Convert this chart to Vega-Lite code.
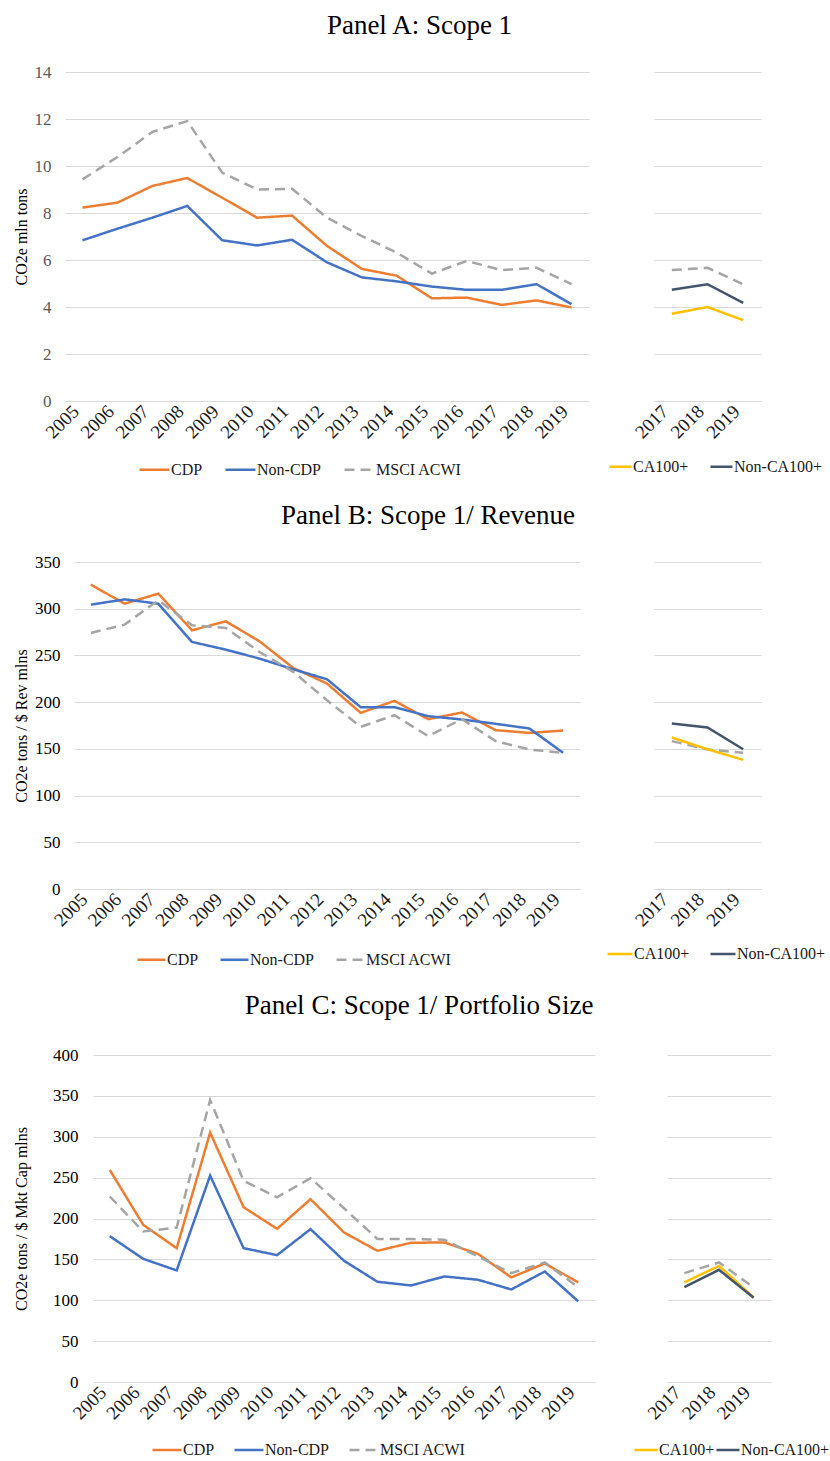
{
  "$schema": "https://vega.github.io/schema/vega-lite/v6.json",
  "padding": {"left": 12, "top": 12, "right": 0, "bottom": 6},
  "background": "white",
  "datasets": {
    "d": [
      {"panel":"A","chart":"main","series":"CDP","year":2005,"value":8.23},
      {"panel":"A","chart":"main","series":"CDP","year":2006,"value":8.44},
      {"panel":"A","chart":"main","series":"CDP","year":2007,"value":9.15},
      {"panel":"A","chart":"main","series":"CDP","year":2008,"value":9.49},
      {"panel":"A","chart":"main","series":"CDP","year":2009,"value":8.65},
      {"panel":"A","chart":"main","series":"CDP","year":2010,"value":7.80},
      {"panel":"A","chart":"main","series":"CDP","year":2011,"value":7.89},
      {"panel":"A","chart":"main","series":"CDP","year":2012,"value":6.60},
      {"panel":"A","chart":"main","series":"CDP","year":2013,"value":5.62},
      {"panel":"A","chart":"main","series":"CDP","year":2014,"value":5.33},
      {"panel":"A","chart":"main","series":"CDP","year":2015,"value":4.37},
      {"panel":"A","chart":"main","series":"CDP","year":2016,"value":4.40},
      {"panel":"A","chart":"main","series":"CDP","year":2017,"value":4.09},
      {"panel":"A","chart":"main","series":"CDP","year":2018,"value":4.28},
      {"panel":"A","chart":"main","series":"CDP","year":2019,"value":3.98},
      {"panel":"A","chart":"main","series":"Non-CDP","year":2005,"value":6.84},
      {"panel":"A","chart":"main","series":"Non-CDP","year":2006,"value":7.33},
      {"panel":"A","chart":"main","series":"Non-CDP","year":2007,"value":7.80},
      {"panel":"A","chart":"main","series":"Non-CDP","year":2008,"value":8.30},
      {"panel":"A","chart":"main","series":"Non-CDP","year":2009,"value":6.84},
      {"panel":"A","chart":"main","series":"Non-CDP","year":2010,"value":6.62},
      {"panel":"A","chart":"main","series":"Non-CDP","year":2011,"value":6.86},
      {"panel":"A","chart":"main","series":"Non-CDP","year":2012,"value":5.90},
      {"panel":"A","chart":"main","series":"Non-CDP","year":2013,"value":5.26},
      {"panel":"A","chart":"main","series":"Non-CDP","year":2014,"value":5.09},
      {"panel":"A","chart":"main","series":"Non-CDP","year":2015,"value":4.87},
      {"panel":"A","chart":"main","series":"Non-CDP","year":2016,"value":4.73},
      {"panel":"A","chart":"main","series":"Non-CDP","year":2017,"value":4.73},
      {"panel":"A","chart":"main","series":"Non-CDP","year":2018,"value":4.97},
      {"panel":"A","chart":"main","series":"Non-CDP","year":2019,"value":4.12},
      {"panel":"A","chart":"main","series":"MSCI ACWI","year":2005,"value":9.43},
      {"panel":"A","chart":"main","series":"MSCI ACWI","year":2006,"value":10.38},
      {"panel":"A","chart":"main","series":"MSCI ACWI","year":2007,"value":11.45},
      {"panel":"A","chart":"main","series":"MSCI ACWI","year":2008,"value":11.91},
      {"panel":"A","chart":"main","series":"MSCI ACWI","year":2009,"value":9.72},
      {"panel":"A","chart":"main","series":"MSCI ACWI","year":2010,"value":9.00},
      {"panel":"A","chart":"main","series":"MSCI ACWI","year":2011,"value":9.03},
      {"panel":"A","chart":"main","series":"MSCI ACWI","year":2012,"value":7.80},
      {"panel":"A","chart":"main","series":"MSCI ACWI","year":2013,"value":7.02},
      {"panel":"A","chart":"main","series":"MSCI ACWI","year":2014,"value":6.31},
      {"panel":"A","chart":"main","series":"MSCI ACWI","year":2015,"value":5.42},
      {"panel":"A","chart":"main","series":"MSCI ACWI","year":2016,"value":5.96},
      {"panel":"A","chart":"main","series":"MSCI ACWI","year":2017,"value":5.57},
      {"panel":"A","chart":"main","series":"MSCI ACWI","year":2018,"value":5.67},
      {"panel":"A","chart":"main","series":"MSCI ACWI","year":2019,"value":4.97},
      {"panel":"A","chart":"side","series":"CA100+","year":2017,"value":3.71},
      {"panel":"A","chart":"side","series":"CA100+","year":2018,"value":4.00},
      {"panel":"A","chart":"side","series":"CA100+","year":2019,"value":3.44},
      {"panel":"A","chart":"side","series":"Non-CA100+","year":2017,"value":4.73},
      {"panel":"A","chart":"side","series":"Non-CA100+","year":2018,"value":4.97},
      {"panel":"A","chart":"side","series":"Non-CA100+","year":2019,"value":4.18},

      {"panel":"B","chart":"main","series":"CDP","year":2005,"value":325.7},
      {"panel":"B","chart":"main","series":"CDP","year":2006,"value":305.4},
      {"panel":"B","chart":"main","series":"CDP","year":2007,"value":316.1},
      {"panel":"B","chart":"main","series":"CDP","year":2008,"value":276.9},
      {"panel":"B","chart":"main","series":"CDP","year":2009,"value":286.5},
      {"panel":"B","chart":"main","series":"CDP","year":2010,"value":265.1},
      {"panel":"B","chart":"main","series":"CDP","year":2011,"value":236.6},
      {"panel":"B","chart":"main","series":"CDP","year":2012,"value":219.9},
      {"panel":"B","chart":"main","series":"CDP","year":2013,"value":188.5},
      {"panel":"B","chart":"main","series":"CDP","year":2014,"value":201.4},
      {"panel":"B","chart":"main","series":"CDP","year":2015,"value":181.8},
      {"panel":"B","chart":"main","series":"CDP","year":2016,"value":188.9},
      {"panel":"B","chart":"main","series":"CDP","year":2017,"value":170.0},
      {"panel":"B","chart":"main","series":"CDP","year":2018,"value":167.1},
      {"panel":"B","chart":"main","series":"CDP","year":2019,"value":169.6},
      {"panel":"B","chart":"main","series":"Non-CDP","year":2005,"value":304.3},
      {"panel":"B","chart":"main","series":"Non-CDP","year":2006,"value":310.0},
      {"panel":"B","chart":"main","series":"Non-CDP","year":2007,"value":305.4},
      {"panel":"B","chart":"main","series":"Non-CDP","year":2008,"value":264.4},
      {"panel":"B","chart":"main","series":"Non-CDP","year":2009,"value":256.2},
      {"panel":"B","chart":"main","series":"Non-CDP","year":2010,"value":246.6},
      {"panel":"B","chart":"main","series":"Non-CDP","year":2011,"value":235.2},
      {"panel":"B","chart":"main","series":"Non-CDP","year":2012,"value":224.5},
      {"panel":"B","chart":"main","series":"Non-CDP","year":2013,"value":194.6},
      {"panel":"B","chart":"main","series":"Non-CDP","year":2014,"value":194.6},
      {"panel":"B","chart":"main","series":"Non-CDP","year":2015,"value":185.0},
      {"panel":"B","chart":"main","series":"Non-CDP","year":2016,"value":181.4},
      {"panel":"B","chart":"main","series":"Non-CDP","year":2017,"value":176.8},
      {"panel":"B","chart":"main","series":"Non-CDP","year":2018,"value":171.8},
      {"panel":"B","chart":"main","series":"Non-CDP","year":2019,"value":145.8},
      {"panel":"B","chart":"main","series":"MSCI ACWI","year":2005,"value":274.0},
      {"panel":"B","chart":"main","series":"MSCI ACWI","year":2006,"value":283.0},
      {"panel":"B","chart":"main","series":"MSCI ACWI","year":2007,"value":309.0},
      {"panel":"B","chart":"main","series":"MSCI ACWI","year":2008,"value":282.2},
      {"panel":"B","chart":"main","series":"MSCI ACWI","year":2009,"value":279.4},
      {"panel":"B","chart":"main","series":"MSCI ACWI","year":2010,"value":253.7},
      {"panel":"B","chart":"main","series":"MSCI ACWI","year":2011,"value":232.4},
      {"panel":"B","chart":"main","series":"MSCI ACWI","year":2012,"value":202.0},
      {"panel":"B","chart":"main","series":"MSCI ACWI","year":2013,"value":173.6},
      {"panel":"B","chart":"main","series":"MSCI ACWI","year":2014,"value":186.0},
      {"panel":"B","chart":"main","series":"MSCI ACWI","year":2015,"value":163.6},
      {"panel":"B","chart":"main","series":"MSCI ACWI","year":2016,"value":181.8},
      {"panel":"B","chart":"main","series":"MSCI ACWI","year":2017,"value":158.3},
      {"panel":"B","chart":"main","series":"MSCI ACWI","year":2018,"value":149.3},
      {"panel":"B","chart":"main","series":"MSCI ACWI","year":2019,"value":145.8},
      {"panel":"B","chart":"side","series":"CA100+","year":2017,"value":162.2},
      {"panel":"B","chart":"side","series":"CA100+","year":2018,"value":149.6},
      {"panel":"B","chart":"side","series":"CA100+","year":2019,"value":138.2},
      {"panel":"B","chart":"side","series":"Non-CA100+","year":2017,"value":177.2},
      {"panel":"B","chart":"side","series":"Non-CA100+","year":2018,"value":172.9},
      {"panel":"B","chart":"side","series":"Non-CA100+","year":2019,"value":149.6},

      {"panel":"C","chart":"main","series":"CDP","year":2005,"value":259.5},
      {"panel":"C","chart":"main","series":"CDP","year":2006,"value":192.3},
      {"panel":"C","chart":"main","series":"CDP","year":2007,"value":163.7},
      {"panel":"C","chart":"main","series":"CDP","year":2008,"value":305.1},
      {"panel":"C","chart":"main","series":"CDP","year":2009,"value":213.8},
      {"panel":"C","chart":"main","series":"CDP","year":2010,"value":187.4},
      {"panel":"C","chart":"main","series":"CDP","year":2011,"value":223.6},
      {"panel":"C","chart":"main","series":"CDP","year":2012,"value":182.9},
      {"panel":"C","chart":"main","series":"CDP","year":2013,"value":160.5},
      {"panel":"C","chart":"main","series":"CDP","year":2014,"value":170.3},
      {"panel":"C","chart":"main","series":"CDP","year":2015,"value":170.7},
      {"panel":"C","chart":"main","series":"CDP","year":2016,"value":156.8},
      {"panel":"C","chart":"main","series":"CDP","year":2017,"value":127.9},
      {"panel":"C","chart":"main","series":"CDP","year":2018,"value":145.0},
      {"panel":"C","chart":"main","series":"CDP","year":2019,"value":121.8},
      {"panel":"C","chart":"main","series":"Non-CDP","year":2005,"value":178.4},
      {"panel":"C","chart":"main","series":"Non-CDP","year":2006,"value":150.7},
      {"panel":"C","chart":"main","series":"Non-CDP","year":2007,"value":136.5},
      {"panel":"C","chart":"main","series":"Non-CDP","year":2008,"value":252.5},
      {"panel":"C","chart":"main","series":"Non-CDP","year":2009,"value":163.7},
      {"panel":"C","chart":"main","series":"Non-CDP","year":2010,"value":155.2},
      {"panel":"C","chart":"main","series":"Non-CDP","year":2011,"value":187.0},
      {"panel":"C","chart":"main","series":"Non-CDP","year":2012,"value":148.3},
      {"panel":"C","chart":"main","series":"Non-CDP","year":2013,"value":122.6},
      {"panel":"C","chart":"main","series":"Non-CDP","year":2014,"value":118.1},
      {"panel":"C","chart":"main","series":"Non-CDP","year":2015,"value":129.1},
      {"panel":"C","chart":"main","series":"Non-CDP","year":2016,"value":125.1},
      {"panel":"C","chart":"main","series":"Non-CDP","year":2017,"value":113.2},
      {"panel":"C","chart":"main","series":"Non-CDP","year":2018,"value":135.2},
      {"panel":"C","chart":"main","series":"Non-CDP","year":2019,"value":98.6},
      {"panel":"C","chart":"main","series":"MSCI ACWI","year":2005,"value":226.9},
      {"panel":"C","chart":"main","series":"MSCI ACWI","year":2006,"value":184.1},
      {"panel":"C","chart":"main","series":"MSCI ACWI","year":2007,"value":189.0},
      {"panel":"C","chart":"main","series":"MSCI ACWI","year":2008,"value":345.0},
      {"panel":"C","chart":"main","series":"MSCI ACWI","year":2009,"value":246.0},
      {"panel":"C","chart":"main","series":"MSCI ACWI","year":2010,"value":226.0},
      {"panel":"C","chart":"main","series":"MSCI ACWI","year":2011,"value":249.3},
      {"panel":"C","chart":"main","series":"MSCI ACWI","year":2012,"value":212.6},
      {"panel":"C","chart":"main","series":"MSCI ACWI","year":2013,"value":174.8},
      {"panel":"C","chart":"main","series":"MSCI ACWI","year":2014,"value":174.8},
      {"panel":"C","chart":"main","series":"MSCI ACWI","year":2015,"value":174.0},
      {"panel":"C","chart":"main","series":"MSCI ACWI","year":2016,"value":153.6},
      {"panel":"C","chart":"main","series":"MSCI ACWI","year":2017,"value":133.2},
      {"panel":"C","chart":"main","series":"MSCI ACWI","year":2018,"value":146.2},
      {"panel":"C","chart":"main","series":"MSCI ACWI","year":2019,"value":115.7},
      {"panel":"C","chart":"side","series":"CA100+","year":2017,"value":122.0},
      {"panel":"C","chart":"side","series":"CA100+","year":2018,"value":142.0},
      {"panel":"C","chart":"side","series":"CA100+","year":2019,"value":103.5},
      {"panel":"C","chart":"side","series":"Non-CA100+","year":2017,"value":116.0},
      {"panel":"C","chart":"side","series":"Non-CA100+","year":2018,"value":137.2},
      {"panel":"C","chart":"side","series":"Non-CA100+","year":2019,"value":103.0}
    ]
  },
  "data": {"name": "d"},
  "config": {
    "font": "Liberation Serif",
    "view": {"stroke": null},
    "style": {
      "guide-label": {"font": "Liberation Serif"},
      "guide-title": {"font": "Liberation Serif"},
      "group-title": {"font": "Liberation Serif"}
    },
    "axis": {
      "domain": false, "ticks": false,
      "labelFont": "Liberation Serif", "labelFontSize": 17, "labelColor": "#000000",
      "titleFont": "Liberation Serif", "titleFontSize": 16, "titleFontWeight": "normal", "titleColor": "#000000",
      "gridColor": "#d9d9d9", "gridWidth": 1
    },
    "axisX": {"labelFont": "Liberation Serif", "labelFontSize": 19, "labelAngle": -45, "labelAlign": "right", "labelBaseline": "middle", "labelPadding": 7, "labelOffset": -7, "grid": false, "title": null, "labelColor": "#1a1a1a"},
    "axisY": {"labelFont": "Liberation Serif", "titleFont": "Liberation Serif"},
    "legend": {
      "orient": "none", "direction": "horizontal", "title": null,
      "symbolType": "stroke", "symbolStrokeWidth": 2.5,
      "labelFont": "Liberation Serif", "labelFontSize": 16, "labelColor": "#1a1a1a",
      "labelOffset": 0
    },
    "title": {"font": "Liberation Serif", "fontSize": 27, "fontWeight": "normal", "color": "#000000", "anchor": "middle", "frame": "bounds"}
  },
  "spacing": 24,
  "resolve": {"scale": {"color": "independent", "strokeDash": "independent"}},
  "vconcat": [
    {
      "title": {"text": "Panel A: Scope 1", "offset": 23, "dx": 2},
      "spacing": 0,
      "resolve": {"scale": {"color": "independent", "strokeDash": "independent"}},
      "hconcat": [
        {"width": 1, "height": 1, "data": {"values": []}, "mark": {"type": "point", "opacity": 0}},
        {
          "spacing": 19,
          "resolve": {"scale": {"color": "independent", "strokeDash": "independent"}},
          "hconcat": [
            {
              "width": 524, "height": 329,
              "transform": [{"filter": "datum.panel == 'A' && datum.chart == 'main'"}],
              "mark": {"type": "line", "strokeWidth": 2.5},
              "encoding": {
                "x": {"field": "year", "type": "ordinal", "scale": {"type": "point", "padding": 0.5}},
                "y": {"field": "value", "type": "quantitative", "scale": {"domain": [0, 14], "nice": false},
                      "axis": {"values": [0,2,4,6,8,10,12,14], "title": "CO2e mln tons", "labelPadding": 14, "titlePadding": 5, "labelColor": "#595959"}},
                "color": {"field": "series", "type": "nominal", "sort": ["CDP","Non-CDP","MSCI ACWI"],
                          "scale": {"domain": ["CDP","Non-CDP","MSCI ACWI"], "range": ["#ED7D31","#4472C4","#A5A5A5"]},
                          "legend": {"legendX": 73, "legendY": 381, "symbolSize": 900, "columnPadding": 17}},
                "strokeDash": {"field": "series", "type": "nominal", "sort": ["CDP","Non-CDP","MSCI ACWI"],
                          "scale": {"domain": ["CDP","Non-CDP","MSCI ACWI"], "range": [[1,0],[1,0],[10,6]]},
                          "legend": {"legendX": 73, "legendY": 381, "symbolSize": 900, "columnPadding": 17}}
              }
            },
            {
              "width": 107, "height": 329,
              "encoding": {
                "x": {"field": "year", "type": "ordinal", "scale": {"type": "point", "padding": 0.5}},
                "y": {"field": "value", "type": "quantitative", "scale": {"domain": [0, 14], "nice": false},
                      "axis": {"values": [0,2,4,6,8,10,12,14], "labelOpacity": 0, "labelPadding": 2, "title": null}}
              },
              "layer": [
                {
                  "transform": [{"filter": "datum.panel == 'A' && datum.series == 'MSCI ACWI' && datum.year >= 2017"}],
                  "mark": {"type": "line", "strokeWidth": 2.5, "color": "#A5A5A5", "strokeDash": [10, 6]}
                },
                {
                  "transform": [{"filter": "datum.panel == 'A' && datum.chart == 'side'"}],
                  "mark": {"type": "line", "strokeWidth": 2.5},
                  "encoding": {
                    "color": {"field": "series", "type": "nominal", "sort": ["CA100+","Non-CA100+"],
                              "scale": {"domain": ["CA100+","Non-CA100+"], "range": ["#FFC000","#44546A"]},
                              "legend": {"legendX": -46, "legendY": 382, "symbolSize": 484, "columnPadding": 16}}
                  }
                }
              ]
            }
          ]
        }
      ]
    },
    {
      "title": {"text": "Panel B: Scope 1/ Revenue", "offset": 23, "dx": 9},
      "spacing": 0,
      "resolve": {"scale": {"color": "independent", "strokeDash": "independent"}},
      "hconcat": [
        {"width": 1, "height": 1, "data": {"values": []}, "mark": {"type": "point", "opacity": 0}},
        {
          "spacing": 26,
          "resolve": {"scale": {"color": "independent", "strokeDash": "independent"}},
          "hconcat": [
            {
              "width": 506, "height": 327,
              "transform": [{"filter": "datum.panel == 'B' && datum.chart == 'main'"}],
              "mark": {"type": "line", "strokeWidth": 2.5},
              "encoding": {
                "x": {"field": "year", "type": "ordinal", "scale": {"type": "point", "padding": 0.5}},
                "y": {"field": "value", "type": "quantitative", "scale": {"domain": [0, 350], "nice": false},
                      "axis": {"values": [0,50,100,150,200,250,300,350], "title": "CO2e tons / $ Rev mlns", "labelPadding": 14, "titlePadding": 5}},
                "color": {"field": "series", "type": "nominal", "sort": ["CDP","Non-CDP","MSCI ACWI"],
                          "scale": {"domain": ["CDP","Non-CDP","MSCI ACWI"], "range": ["#ED7D31","#4472C4","#A5A5A5"]},
                          "legend": {"legendX": 62, "legendY": 382, "symbolSize": 784, "columnPadding": 16}},
                "strokeDash": {"field": "series", "type": "nominal", "sort": ["CDP","Non-CDP","MSCI ACWI"],
                          "scale": {"domain": ["CDP","Non-CDP","MSCI ACWI"], "range": [[1,0],[1,0],[10,6]]},
                          "legend": {"legendX": 62, "legendY": 382, "symbolSize": 784, "columnPadding": 16}}
              }
            },
            {
              "width": 107, "height": 327,
              "encoding": {
                "x": {"field": "year", "type": "ordinal", "scale": {"type": "point", "padding": 0.5}},
                "y": {"field": "value", "type": "quantitative", "scale": {"domain": [0, 350], "nice": false},
                      "axis": {"values": [0,50,100,150,200,250,300,350], "labelOpacity": 0, "labelPadding": 2, "title": null}}
              },
              "layer": [
                {
                  "transform": [{"filter": "datum.panel == 'B' && datum.series == 'MSCI ACWI' && datum.year >= 2017"}],
                  "mark": {"type": "line", "strokeWidth": 2.5, "color": "#A5A5A5", "strokeDash": [10, 6]}
                },
                {
                  "transform": [{"filter": "datum.panel == 'B' && datum.chart == 'side'"}],
                  "mark": {"type": "line", "strokeWidth": 2.5},
                  "encoding": {
                    "color": {"field": "series", "type": "nominal", "sort": ["CA100+","Non-CA100+"],
                              "scale": {"domain": ["CA100+","Non-CA100+"], "range": ["#FFC000","#44546A"]},
                              "legend": {"legendX": -48, "legendY": 378, "symbolSize": 625, "columnPadding": 15}}
                  }
                }
              ]
            }
          ]
        }
      ]
    },
    {
      "title": {"text": "Panel C: Scope 1/ Portfolio Size", "offset": 26, "dx": -2},
      "spacing": 0,
      "resolve": {"scale": {"color": "independent", "strokeDash": "independent"}},
      "hconcat": [
        {"width": 1, "height": 1, "data": {"values": []}, "mark": {"type": "point", "opacity": 0}},
        {
          "spacing": 38,
          "resolve": {"scale": {"color": "independent", "strokeDash": "independent"}},
          "hconcat": [
            {
              "width": 502, "height": 327,
              "transform": [{"filter": "datum.panel == 'C' && datum.chart == 'main'"}],
              "mark": {"type": "line", "strokeWidth": 2.5},
              "encoding": {
                "x": {"field": "year", "type": "ordinal", "scale": {"type": "point", "padding": 0.5}},
                "y": {"field": "value", "type": "quantitative", "scale": {"domain": [0, 400], "nice": false},
                      "axis": {"values": [0,50,100,150,200,250,300,350,400], "title": "CO2e tons / $ Mkt Cap mlns", "labelPadding": 15, "titlePadding": 23}},
                "color": {"field": "series", "type": "nominal", "sort": ["CDP","Non-CDP","MSCI ACWI"],
                          "scale": {"domain": ["CDP","Non-CDP","MSCI ACWI"], "range": ["#ED7D31","#4472C4","#A5A5A5"]},
                          "legend": {"legendX": 58, "legendY": 379, "symbolSize": 841, "columnPadding": 14}},
                "strokeDash": {"field": "series", "type": "nominal", "sort": ["CDP","Non-CDP","MSCI ACWI"],
                          "scale": {"domain": ["CDP","Non-CDP","MSCI ACWI"], "range": [[1,0],[1,0],[10,6]]},
                          "legend": {"legendX": 58, "legendY": 379, "symbolSize": 841, "columnPadding": 14}}
              }
            },
            {
              "width": 104, "height": 327,
              "encoding": {
                "x": {"field": "year", "type": "ordinal", "scale": {"type": "point", "padding": 0.5}},
                "y": {"field": "value", "type": "quantitative", "scale": {"domain": [0, 400], "nice": false},
                      "axis": {"values": [0,50,100,150,200,250,300,350,400], "labelOpacity": 0, "labelPadding": 2, "title": null}}
              },
              "layer": [
                {
                  "transform": [{"filter": "datum.panel == 'C' && datum.series == 'MSCI ACWI' && datum.year >= 2017"}],
                  "mark": {"type": "line", "strokeWidth": 2.5, "color": "#A5A5A5", "strokeDash": [10, 6]}
                },
                {
                  "transform": [{"filter": "datum.panel == 'C' && datum.chart == 'side'"}],
                  "mark": {"type": "line", "strokeWidth": 2.5},
                  "encoding": {
                    "color": {"field": "series", "type": "nominal", "sort": ["CA100+","Non-CA100+"],
                              "scale": {"domain": ["CA100+","Non-CA100+"], "range": ["#FFC000","#44546A"]},
                              "legend": {"legendX": -34, "legendY": 382, "symbolSize": 529, "columnPadding": -5}}
                  }
                }
              ]
            }
          ]
        }
      ]
    }
  ]
}
